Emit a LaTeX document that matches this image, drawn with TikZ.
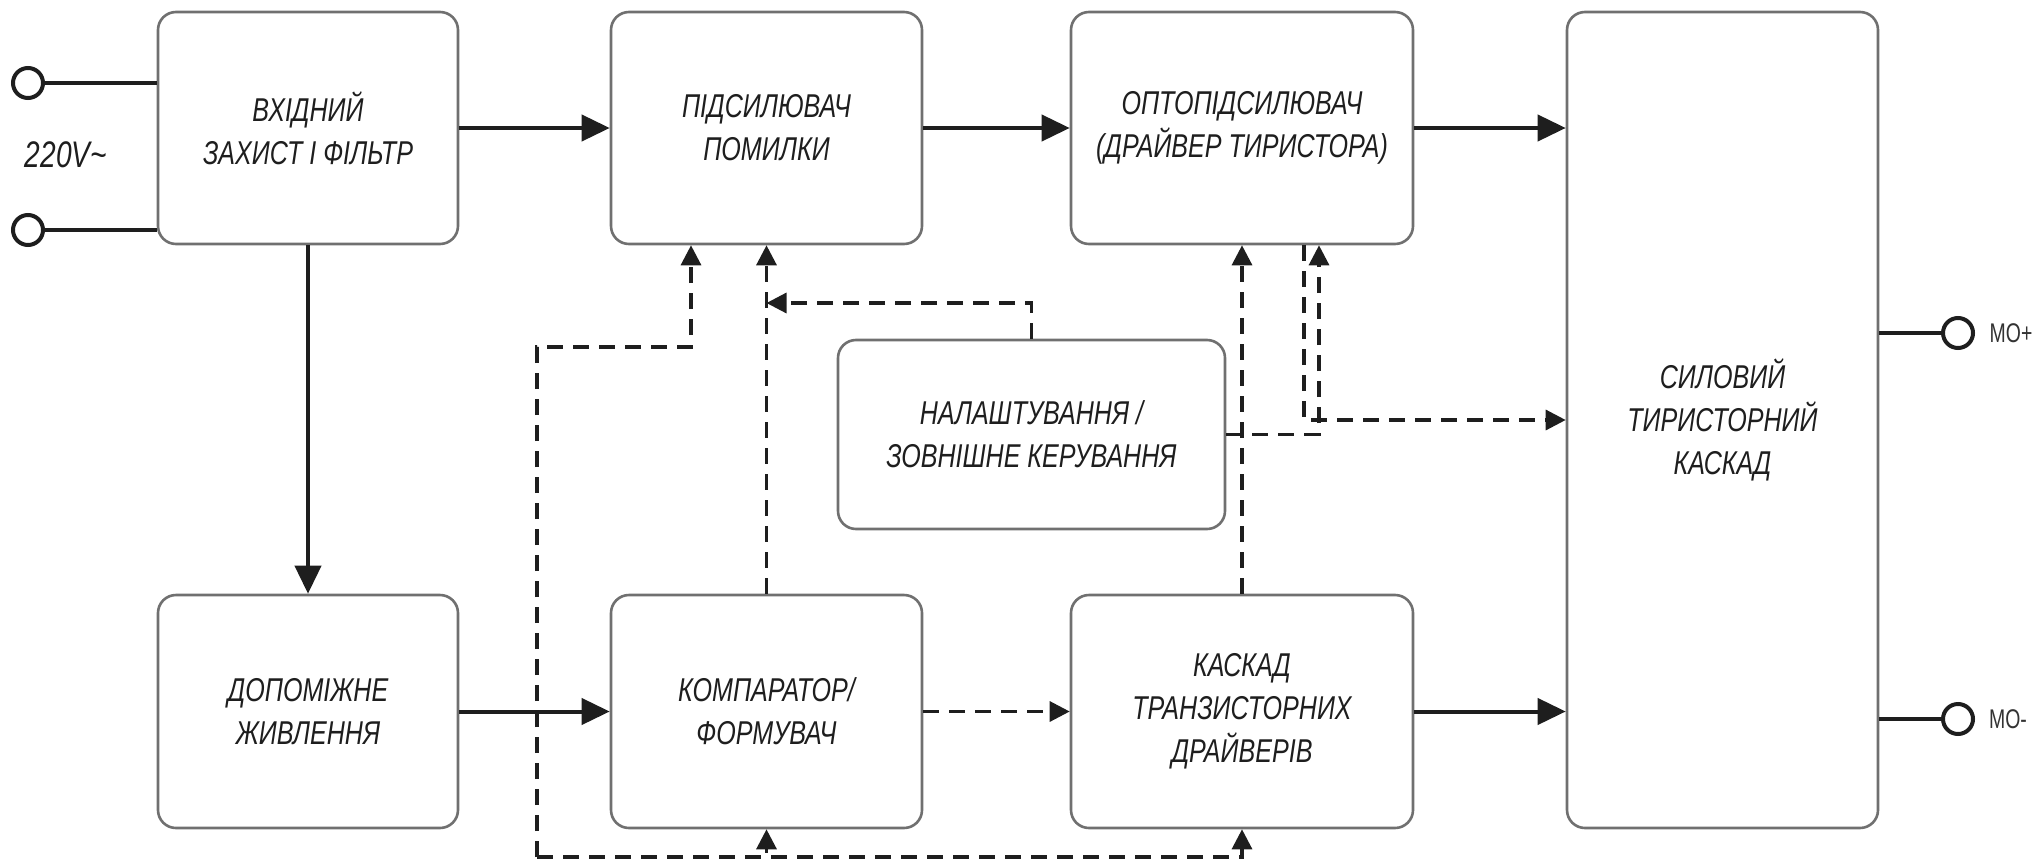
\documentclass[tikz,border=0pt]{standalone}
\usepackage{fontspec}
\setmainfont{Liberation Sans}
\newfontfamily\gost[FakeStretch=0.76]{Liberation Sans}
\newfontfamily\mofont[FakeStretch=0.72]{Liberation Sans}
\usetikzlibrary{arrows.meta}
\definecolor{boxgray}{HTML}{707070}
\definecolor{ink}{HTML}{1E1E1E}
\definecolor{labgray}{HTML}{333333}
\begin{document}
\begin{tikzpicture}[x=1pt,y=-1pt,
  blk/.style={draw=boxgray, line width=2.6pt, rounded corners=18pt, fill=white, align=center, inner sep=0pt, text=ink, font=\gost\itshape\fontsize{33}{43}\selectfont},
  sol/.style={draw=ink, line width=4pt, -{Triangle[length=28pt,width=26pt]}},
  dsh/.style={draw=ink, line width=3.2pt, dash pattern=on 16pt off 10pt, -{Triangle[length=20pt,width=20pt]}},
  wire/.style={draw=ink, line width=4pt},
  term/.style={circle, draw=ink, line width=4pt, minimum size=30pt, inner sep=0pt, fill=white},
  lab/.style={inner sep=0pt, text=ink},
]
\useasboundingbox (0,0) rectangle (2034,862);
% blocks
\node[blk, minimum width=300pt, minimum height=232pt] (b1) at (308,128) {ВХІДНИЙ\\ЗАХИСТ І ФІЛЬТР};
\node[blk, minimum width=311pt, minimum height=232pt] (b2) at (766.5,128) {ПІДСИЛЮВАЧ\\ПОМИЛКИ};
\node[blk, minimum width=342pt, minimum height=232pt] (b3) at (1242,128) {ОПТОПІДСИЛЮВАЧ\\(ДРАЙВЕР ТИРИСТОРА)};
\node[blk, minimum width=311pt, minimum height=816pt] (b4) at (1722.5,420) {СИЛОВИЙ\\ТИРИСТОРНИЙ\\КАСКАД};
\node[blk, minimum width=300pt, minimum height=233pt] (b5) at (308,711.5) {ДОПОМІЖНЕ\\ЖИВЛЕННЯ};
\node[blk, minimum width=311pt, minimum height=233pt] (b6) at (766.5,711.5) {КОМПАРАТОР/\\ФОРМУВАЧ};
\node[blk, minimum width=387pt, minimum height=189pt] (b7) at (1031.5,434.5) {НАЛАШТУВАННЯ /\\ЗОВНІШНЕ КЕРУВАННЯ};
\node[blk, minimum width=342pt, minimum height=233pt] (b8) at (1242,711.5) {КАСКАД\\ТРАНЗИСТОРНИХ\\ДРАЙВЕРІВ};
% terminals
\node[term] (t1) at (28,83) {};
\node[term] (t2) at (28,230) {};
\node[term] (t3) at (1958,333) {};
\node[term] (t4) at (1958,719) {};
\draw[wire] (t1.east) -- (t1.east -| b1.west);
\draw[wire] (t2.east) -- (t2.east -| b1.west);
\draw[wire] (t3.west -| b4.east) -- (t3.west);
\draw[wire] (t4.west -| b4.east) -- (t4.west);
\node[lab, font=\gost\itshape\fontsize{37}{40}\selectfont] (v) at (66,155) {220V\textasciitilde};
\node[lab, text=labgray, font=\mofont\fontsize{27}{30}\selectfont] (l1) at (2011,333) {MO+};
\node[lab, text=labgray, font=\mofont\fontsize{27}{30}\selectfont] (l2) at (2008,719) {MO-};
% solid connectors
\draw[sol] (b1.east) -- (b2.west);
\draw[sol] (b2.east) -- (b3.west);
\draw[sol] (b3.east) -- (b3.east -| b4.west);
\draw[sol] (b1.south) -- (b5.north);
\draw[sol] (b5.east) -- (b6.west);
\draw[sol] (b8.east) -- (b8.east -| b4.west);
% dashed connectors
\draw[dsh] (b6.east) -- (b8.west);
\draw[dsh] (b6.north) -- (b2.south);
\coordinate (k1) at (766.5,303);
\draw[dsh] (b7.north) |- (k1);
\coordinate (bus) at (537,857);
\coordinate (up) at (537,347);
\draw[dsh] (bus) -- (up) -| ([xshift=-75.5pt]b2.south);
\draw[dsh] (bus) -| (b6.south);
\draw[dsh] (bus) -| (b8.south);
\draw[dsh] (b8.north) -- (b3.south);
\draw[dsh] ([xshift=62pt]b3.south) |- (b4.west);
\draw[dsh] (b7.east) -| ([xshift=77pt]b3.south);
\end{tikzpicture}
\end{document}
